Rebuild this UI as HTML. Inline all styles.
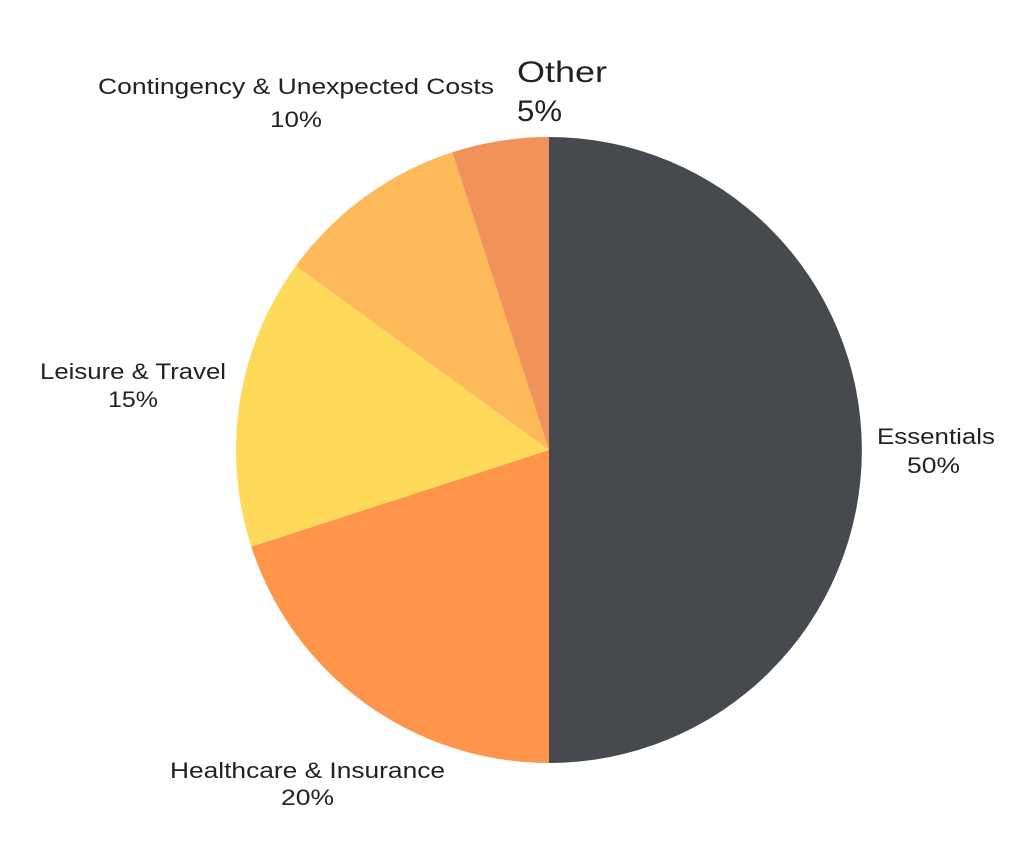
<!DOCTYPE html>
<html><head><meta charset="utf-8"><style>
html,body{margin:0;padding:0;background:#fff;}
svg{display:block;}
text{font-family:"Liberation Sans",sans-serif;fill:#222;}
</style></head><body>
<svg width="1024" height="846" viewBox="0 0 1024 846">
<path d="M549,450 L549,137 A313,313 0 0 1 549,763 Z" fill="#464a4f"/>
<path d="M549,450 L549,763 A313,313 0 0 1 251.3,546.7 Z" fill="#fe954b"/>
<path d="M549,450 L251.3,546.7 A313,313 0 0 1 295.8,266.0 Z" fill="#fed95a"/>
<path d="M549,450 L295.8,266.0 A313,313 0 0 1 452.3,152.3 Z" fill="#feba5a"/>
<path d="M549,450 L452.3,152.3 A313,313 0 0 1 549,137 Z" fill="#f0935a"/>
<g font-size="22" lengthAdjust="spacingAndGlyphs">
<text x="98" y="94" textLength="396" lengthAdjust="spacingAndGlyphs">Contingency &amp; Unexpected Costs</text>
<text x="270" y="127" textLength="52" lengthAdjust="spacingAndGlyphs">10%</text>
<text x="40" y="379" textLength="186" lengthAdjust="spacingAndGlyphs">Leisure &amp; Travel</text>
<text x="108" y="407" textLength="50" lengthAdjust="spacingAndGlyphs">15%</text>
<text x="877" y="444" textLength="118" lengthAdjust="spacingAndGlyphs">Essentials</text>
<text x="907" y="473" textLength="53" lengthAdjust="spacingAndGlyphs">50%</text>
<text x="170" y="778" textLength="275" lengthAdjust="spacingAndGlyphs">Healthcare &amp; Insurance</text>
<text x="281" y="805" textLength="53" lengthAdjust="spacingAndGlyphs">20%</text>
</g>
<text x="517" y="82" font-size="30" textLength="90" lengthAdjust="spacingAndGlyphs">Other</text>
<text x="517" y="121" font-size="30" textLength="45" lengthAdjust="spacingAndGlyphs">5%</text>
</svg>
</body></html>
